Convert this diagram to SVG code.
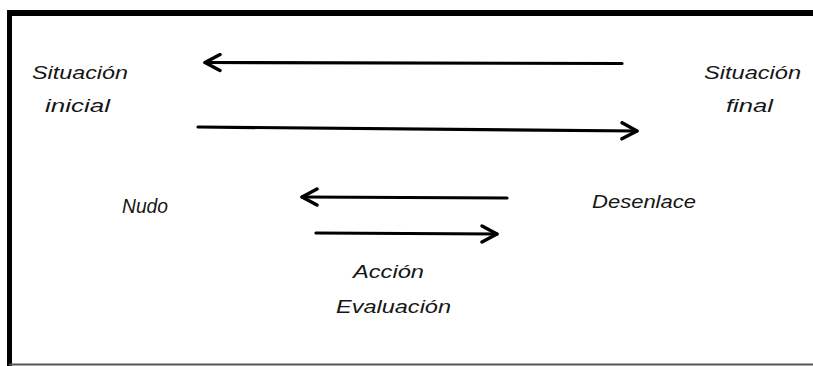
<svg xmlns="http://www.w3.org/2000/svg" width="813" height="366" viewBox="0 0 813 366">
  <defs>
    <marker id="headBig" viewBox="0 0 20 20" refX="17" refY="10" markerWidth="20" markerHeight="20" markerUnits="userSpaceOnUse" orient="auto">
      <path d="M2,2 L17,10 L2,18" fill="none" stroke="#000" stroke-width="3.4" stroke-linecap="round" stroke-linejoin="round"/>
    </marker>
  </defs>
  <style>
    .lbl { font-family: "Liberation Sans", "DejaVu Sans", sans-serif; font-style: italic; font-size: 19px; fill: #161616; }
    .arrow { fill: none; stroke: #000; stroke-width: 3.2; stroke-linecap: round; }
  </style>

  <rect width="813" height="366" fill="#fff"/>

  <!-- frame -->
  <g id="frame">
    <line x1="9.5" y1="13" x2="813" y2="13" stroke="#000" stroke-width="6"/>
    <line x1="9.5" y1="10" x2="9.5" y2="366" stroke="#000" stroke-width="5"/>
    <line x1="9" y1="364.5" x2="813" y2="364.5" stroke="#555" stroke-width="2"/>
  </g>

  <!-- nodes -->
  <g id="situacion-inicial">
    <text class="lbl" x="32" y="79" textLength="96" lengthAdjust="spacingAndGlyphs">Situación</text>
    <text class="lbl" x="45" y="112" textLength="65" lengthAdjust="spacingAndGlyphs">inicial</text>
  </g>
  <g id="situacion-final">
    <text class="lbl" x="704" y="79" textLength="97" lengthAdjust="spacingAndGlyphs">Situación</text>
    <text class="lbl" x="726" y="112" textLength="47" lengthAdjust="spacingAndGlyphs">final</text>
  </g>
  <g id="nudo">
    <text class="lbl" x="122" y="213" textLength="46" lengthAdjust="spacingAndGlyphs" style="font-size:20px">Nudo</text>
  </g>
  <g id="desenlace">
    <text class="lbl" x="592" y="208" textLength="104" lengthAdjust="spacingAndGlyphs">Desenlace</text>
  </g>
  <g id="accion-evaluacion">
    <text class="lbl" x="353" y="278" textLength="71" lengthAdjust="spacingAndGlyphs">Acción</text>
    <text class="lbl" x="336" y="313" textLength="115" lengthAdjust="spacingAndGlyphs">Evaluación</text>
  </g>

  <!-- connectors -->
  <g id="connectors">
    <line class="arrow" x1="622" y1="63.5" x2="205" y2="62.5" marker-end="url(#headBig)"/>
    <line class="arrow" x1="198" y1="127" x2="637" y2="131" marker-end="url(#headBig)"/>
    <line class="arrow" x1="507" y1="198" x2="302" y2="197" marker-end="url(#headBig)"/>
    <line class="arrow" x1="316" y1="233" x2="497" y2="234" marker-end="url(#headBig)"/>
  </g>
</svg>
